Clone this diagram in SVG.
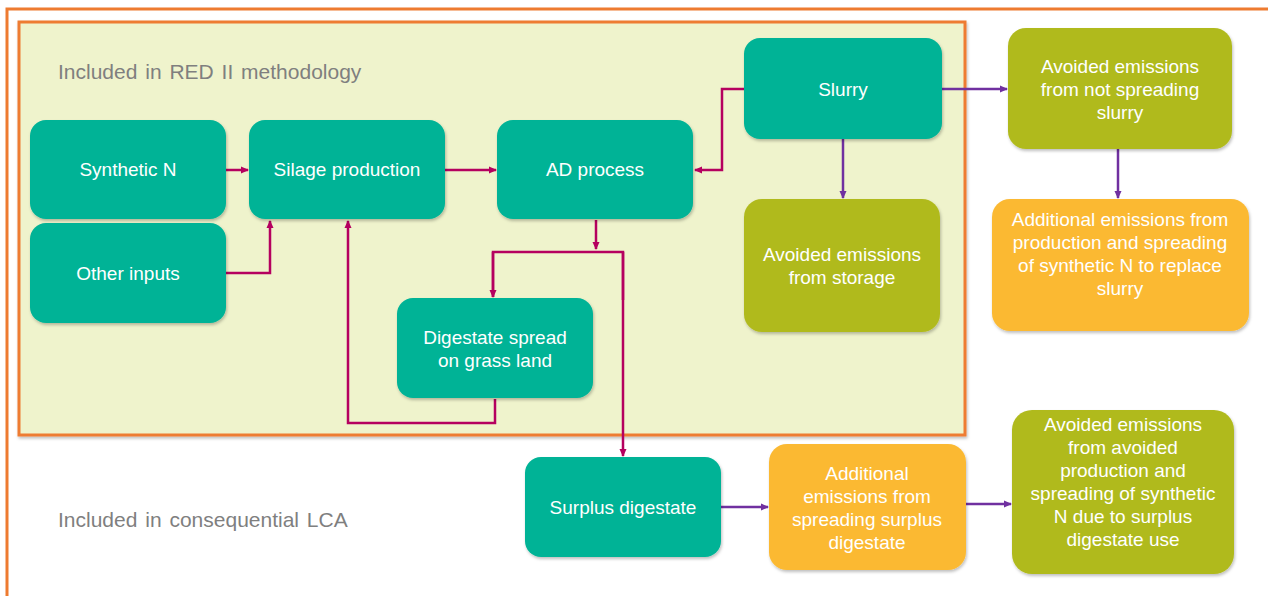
<svg xmlns="http://www.w3.org/2000/svg" width="1268" height="596" viewBox="0 0 1268 596">
<defs>
<filter id="sh" x="-10%" y="-10%" width="120%" height="130%">
<feDropShadow dx="1" dy="2" stdDeviation="1.5" flood-color="#000" flood-opacity="0.25"/>
</filter>
<marker id="am" markerWidth="8" markerHeight="8" refX="7" refY="4" orient="auto" markerUnits="userSpaceOnUse">
<path d="M0,0.5 L8,4 L0,7.5 Z" fill="#B5005F"/>
</marker>
<marker id="ap" markerWidth="8" markerHeight="8" refX="7" refY="4" orient="auto" markerUnits="userSpaceOnUse">
<path d="M0,0.5 L8,4 L0,7.5 Z" fill="#7030A0"/>
</marker>
</defs>
<style>
.t{fill:#00B396;filter:url(#sh)}
.o{fill:#B0BA1E;filter:url(#sh)}
.y{fill:#FBB932;filter:url(#sh)}
.lb{font-family:"Liberation Sans",Arial,sans-serif;font-size:19px;fill:#fff;text-anchor:middle}
.hd{font-family:"Liberation Sans",Arial,sans-serif;font-size:21px;fill:#7F7F7F;word-spacing:2px}
.cm{fill:none;stroke:#B5005F;stroke-width:2.5;marker-end:url(#am)}
.cmn{fill:none;stroke:#B5005F;stroke-width:2.5}
.cp{fill:none;stroke:#7030A0;stroke-width:2.5;marker-end:url(#ap)}
</style>
<rect width="1268" height="596" fill="#fff"/>
<path d="M7,600 L7,9 L1270,9" fill="none" stroke="#EE7B30" stroke-width="3"/>
<rect x="19" y="22" width="946" height="413" fill="#EFF3CC" stroke="#EE7B30" stroke-width="3" filter="url(#sh)"/>
<text class="hd" x="58" y="79">Included in RED II methodology</text>
<text class="hd" x="58" y="527">Included in consequential LCA</text>

<g id="connectors">
<path class="cm" d="M226,170 L248,170"/>
<path class="cm" d="M226,273 L270,273 L270,221"/>
<path class="cm" d="M445,170 L496,170"/>
<path class="cm" d="M744,89 L722,89 L722,170 L695,170"/>
<path class="cm" d="M596,220 L596,249"/>
<path class="cmn" d="M493,297 L493,252 L623,252 L623,300"/>
<path class="cm" d="M493,252 L493,297"/>
<path class="cm" d="M623,252 L623,456"/>
<path class="cm" d="M495,399 L495,423 L348,423 L348,221"/>
<path class="cp" d="M942,89 L1007,89"/>
<path class="cp" d="M843,139 L843,198"/>
<path class="cp" d="M1118,149 L1118,198"/>
<path class="cp" d="M721,507 L768,507"/>
<path class="cp" d="M966,504 L1011,504"/>
</g>

<g id="synthetic-n"><rect class="t" x="30" y="120" width="196" height="99" rx="16"/><text class="lb" x="128" y="176">Synthetic N</text></g>
<g id="other-inputs"><rect class="t" x="30" y="223" width="196" height="100" rx="16"/><text class="lb" x="128" y="280">Other inputs</text></g>
<g id="silage"><rect class="t" x="249" y="120" width="196" height="99" rx="16"/><text class="lb" x="347" y="176">Silage production</text></g>
<g id="ad"><rect class="t" x="497" y="120" width="196" height="99" rx="16"/><text class="lb" x="595" y="176">AD process</text></g>
<g id="slurry"><rect class="t" x="744" y="38" width="198" height="101" rx="16"/><text class="lb" x="843" y="96">Slurry</text></g>
<g id="storage"><rect class="o" x="744" y="199" width="196" height="133" rx="18"/><text class="lb" x="842" y="261">Avoided emissions</text><text class="lb" x="842" y="284">from storage</text></g>
<g id="digestate"><rect class="t" x="397" y="298" width="196" height="100" rx="16"/><text class="lb" x="495" y="344">Digestate spread</text><text class="lb" x="495" y="367">on grass land</text></g>
<g id="surplus"><rect class="t" x="525" y="457" width="196" height="100" rx="16"/><text class="lb" x="623" y="514">Surplus digestate</text></g>
<g id="add-surplus"><rect class="y" x="769" y="444" width="197" height="126" rx="18"/><text class="lb" x="867" y="480">Additional</text><text class="lb" x="867" y="503">emissions from</text><text class="lb" x="867" y="526">spreading surplus</text><text class="lb" x="867" y="549">digestate</text></g>
<g id="avoided-prod"><rect class="o" x="1012" y="410" width="222" height="164" rx="20"/><text class="lb" x="1123" y="431">Avoided emissions</text><text class="lb" x="1123" y="454">from avoided</text><text class="lb" x="1123" y="477">production and</text><text class="lb" x="1123" y="500">spreading of synthetic</text><text class="lb" x="1123" y="523">N due to surplus</text><text class="lb" x="1123" y="546">digestate use</text></g>
<g id="not-spreading"><rect class="o" x="1008" y="28" width="224" height="121" rx="18"/><text class="lb" x="1120" y="73">Avoided emissions</text><text class="lb" x="1120" y="96">from not spreading</text><text class="lb" x="1120" y="119">slurry</text></g>
<g id="add-synth"><rect class="y" x="992" y="199" width="257" height="132" rx="18"/><text class="lb" x="1120" y="226">Additional emissions from</text><text class="lb" x="1120" y="249">production and spreading</text><text class="lb" x="1120" y="272">of synthetic N to replace</text><text class="lb" x="1120" y="295">slurry</text></g>
</svg>
